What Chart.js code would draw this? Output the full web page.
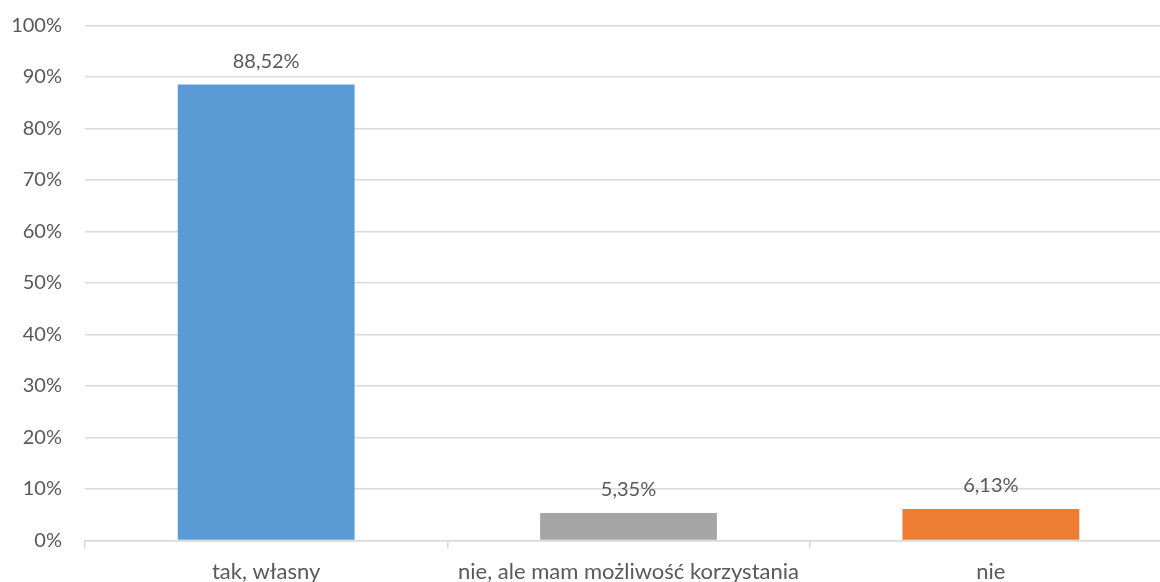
<!DOCTYPE html>
<html>
<head>
<meta charset="utf-8">
<script src="https://cdn.jsdelivr.net/npm/chart.js@4/dist/chart.umd.min.js"></script>
<style>
html, body { margin: 0; padding: 0; background: #ffffff; overflow: hidden; }
#wrap { width: 1172px; height: 582px; }
</style>
</head>
<body>
<div id="wrap"><canvas id="c" width="1172" height="582"></canvas></div>
<script>
const categories = ['tak, własny', 'nie, ale mam możliwość korzystania', 'nie'];
const values = [88.52, 5.35, 6.13];
const barColors = ['#5B9BD5', '#A5A5A5', '#ED7D31'];
const yTicks = [0, 10, 20, 30, 40, 50, 60, 70, 80, 90, 100];

const textColor = '#595959';
const gridColor = '#D9D9D9';
const fontFamily = 'Lato, "Liberation Sans", sans-serif';

const valueLabels = {
  id: 'valueLabels',
  afterDatasetsDraw(chart) {
    const ctx = chart.ctx;
    ctx.save();
    ctx.font = '20px ' + fontFamily;
    ctx.fillStyle = textColor;
    ctx.textAlign = 'center';
    ctx.textBaseline = 'middle';
    chart.getDatasetMeta(0).data.forEach((el, i) => {
      const v = chart.data.datasets[0].data[i];
      ctx.fillText(v.toFixed(2).replace('.', ',') + '%', el.x, el.y - 23);
    });
    ctx.restore();
  }
};

new Chart(document.getElementById('c'), {
  type: 'bar',
  data: {
    labels: categories,
    datasets: [{
      data: values,
      backgroundColor: barColors,
      borderWidth: 0,
      categoryPercentage: 1,
      barPercentage: 0.488
    }]
  },
  options: {
    responsive: false,
    animation: false,
    devicePixelRatio: 1,
    layout: { padding: { top: 25.5, left: 0, right: 0, bottom: 0 } },
    plugins: { legend: { display: false }, tooltip: { enabled: false } },
    scales: {
      x: {
        afterFit(scale) { scale.height = 41.5; },
        grid: {
          offset: true,
          drawOnChartArea: false,
          drawTicks: true,
          tickLength: 8,
          color: gridColor,
          lineWidth: 1.5
        },
        border: { display: true, color: gridColor, width: 1.5 },
        ticks: {
          color: textColor,
          font: { family: fontFamily, size: 22 },
          padding: 10,
          maxRotation: 0,
          autoSkip: false
        }
      },
      y: {
        min: 0,
        max: 100,
        afterFit(scale) { scale.width = 85; },
        afterBuildTicks(scale) { scale.ticks = yTicks.map(v => ({ value: v })); },
        grid: {
          color: gridColor,
          lineWidth: 1.5,
          drawTicks: true,
          tickLength: 23,
          tickColor: 'rgba(0,0,0,0)'
        },
        border: { display: false },
        ticks: {
          color: textColor,
          font: { family: fontFamily, size: 20 },
          padding: 0,
          callback: (v) => v + '%'
        }
      }
    }
  },
  plugins: [valueLabels]
});
</script>
</body>
</html>
